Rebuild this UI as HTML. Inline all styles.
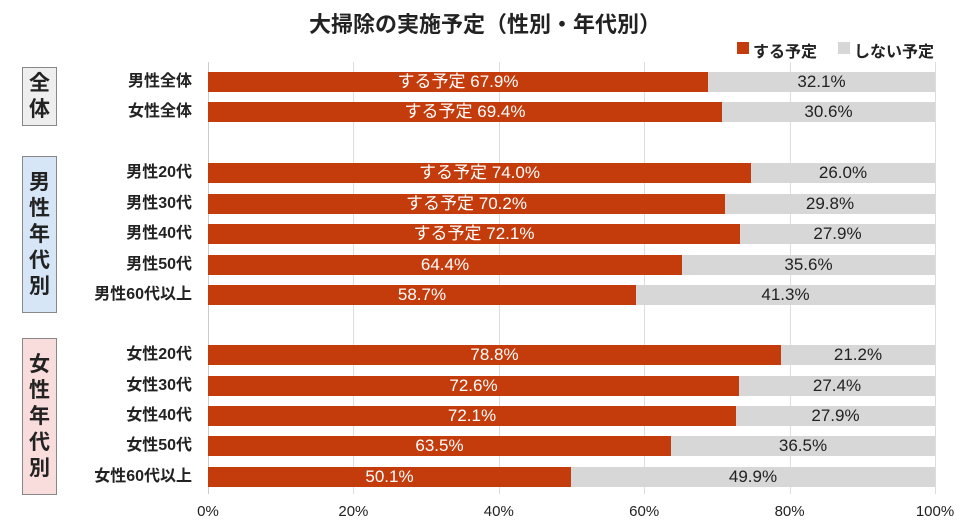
<!DOCTYPE html>
<html><head><meta charset="utf-8"><style>
body{margin:0;width:970px;height:529px;background:#fff;font-family:"Liberation Sans","Noto Sans CJK JP",sans-serif;position:relative;overflow:hidden}
.a{position:absolute}
.t{left:0;width:970px;top:7px;text-align:center;font-size:22px;font-weight:bold;color:#222}
.grid{position:absolute;top:62px;height:432px;width:1px;background:#ddd}
.row{position:absolute;left:208px;width:727px;height:20px}
.r{position:absolute;left:0;top:0;height:20px;background:#c43b0c;color:#fff;font-size:17px;line-height:20px;text-align:center}
.g{position:absolute;top:0;right:0;height:20px;background:#d7d7d7;color:#222;font-size:17px;line-height:20px;text-align:center}
.lab{position:absolute;right:778px;font-size:16px;font-weight:bold;color:#222;line-height:20px;white-space:nowrap}
.box{position:absolute;left:22px;width:33px;border:1px solid #888;font-size:21px;font-weight:bold;color:#222;display:flex;flex-direction:column;align-items:center;justify-content:center;line-height:26px}
.ax{position:absolute;top:503px;font-size:15px;color:#222;transform:translateX(-50%)}
</style></head><body>
<div class="a t">大掃除の実施予定（性別・年代別）</div>
<div class="a" style="left:737px;top:42px;width:12px;height:12px;background:#c43b0c"></div>
<div class="a" style="left:753px;top:38px;font-size:16px;font-weight:bold;color:#222">する予定</div>
<div class="a" style="left:838px;top:42px;width:12px;height:12px;background:#d7d7d7"></div>
<div class="a" style="left:854px;top:38px;font-size:16px;font-weight:bold;color:#222">しない予定</div>
<div class="grid" style="left:208px;background:#ccc"></div>
<div class="grid" style="left:353px"></div>
<div class="grid" style="left:499px"></div>
<div class="grid" style="left:644px"></div>
<div class="grid" style="left:790px"></div>
<div class="grid" style="left:935px"></div>
<div class="box" style="top:67px;height:57px;background:#eeeeee">全<br>体</div>
<div class="box" style="top:156px;height:155px;background:#d6e6f7">男<br>性<br>年<br>代<br>別</div>
<div class="box" style="top:338px;height:155px;background:#f9dcdc">女<br>性<br>年<br>代<br>別</div>
<div id="rows"></div>
<script>
var d=[["男性全体",67.9,82,1,708],["女性全体",69.4,112,1,722],["男性20代",74.0,173,1,751],["男性30代",70.2,204,1,725],["男性40代",72.1,234,1,740],["男性50代",64.4,265,0,682],["男性60代以上",58.7,295,0,636],["女性20代",78.8,355,0,781],["女性30代",72.6,386,0,739],["女性40代",72.1,416,0,736],["女性50代",63.5,446,0,671],["女性60代以上",50.1,477,0,571]];
var h="";d.forEach(function(x){var w=x[4]-208;var y=x[2]-10;
h+='<div class="lab" style="top:'+y+'px">'+x[0]+'</div>';
h+='<div class="row" style="top:'+y+'px"><div class="r" style="width:'+w+'px">'+(x[3]?'する予定 ':'')+x[1].toFixed(1)+'%</div><div class="g" style="width:'+(727-w)+'px">'+(100-x[1]).toFixed(1)+'%</div></div>';});
for(var i=0;i<=5;i++){h+='<div class="ax" style="left:'+(208+145.4*i)+'px">'+(i*20)+'%</div>';}
document.getElementById("rows").innerHTML=h;
</script>
</body></html>
